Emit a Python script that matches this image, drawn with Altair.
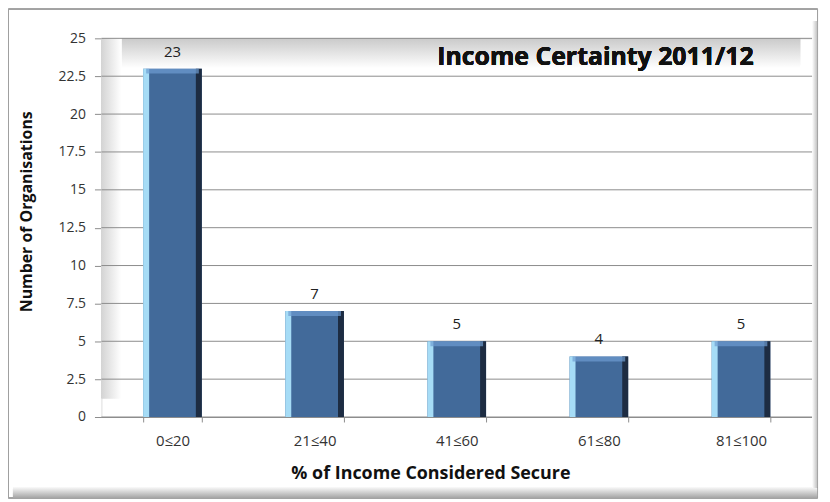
import altair as alt
import pandas as pd

categories = ["0≤20", "21≤40", "41≤60", "61≤80", "81≤100"]
counts = [23, 7, 5, 4, 5]
y_ticks = [0, 2.5, 5, 7.5, 10, 12.5, 15, 17.5, 20, 22.5, 25]

df = pd.DataFrame({"cat": categories, "n": counts})
grid_df = pd.DataFrame({"v": y_ticks})
FONT = "Liberation Sans Narrow, Open Sans, sans-serif"
TFONT = "Open Sans, sans-serif"
W, H = 715, 381

x_scale = alt.Scale(domain=categories, paddingInner=0.59, paddingOuter=0.295)
y_scale = alt.Scale(domain=[0, 25])

x_axis = alt.Axis(title="% of Income Considered Secure", labelAngle=0,
                  tickBand="extent", domainColor="#8c8c8c", tickColor="#8c8c8c",
                  tickSize=5, labelPadding=12, labelFontSize=15, labelColor="#333",
                  labelFont=FONT, titleFont=TFONT, titleFontSize=18, titleFontWeight="bold",
                  titleColor="#111", titleX=331, titleY=57, titleBaseline="middle",
                  titleAlign="center", titleAnchor="start", grid=False)
y_axis = alt.Axis(title="Number of Organisations", values=y_ticks,
                  labelExpr="'' + datum.value",
                  labelOverlap=False, domain=False, tickColor="#8c8c8c", tickSize=7,
                  labelPadding=9, labelFontSize=14, labelColor="#333", labelFont=FONT,
                  grid=False, titleFont=TFONT, titleFontSize=16, titleFontWeight="bold",
                  titleColor="#111", titleX=-75, titleY=174, titleBaseline="middle",
                  titleAlign="center", titleAnchor="start")

x_enc = alt.X("cat:N", sort=categories, scale=x_scale, axis=x_axis)
y_enc = alt.Y("n:Q", scale=y_scale, axis=y_axis)

base = alt.Chart(df)

def grad(c0, c1, horizontal=False):
    return alt.Gradient(gradient="linear", x1=0, y1=0,
                        x2=1 if horizontal else 0, y2=0 if horizontal else 1,
                        stops=[alt.GradientStop(color=c0, offset=0),
                               alt.GradientStop(color=c1, offset=1)])

frame = base.mark_rect(fill="white", fillOpacity=0, stroke="#a0a0a0", strokeWidth=1).encode(
    x=alt.value(-93.5), x2=alt.value(720.5), y=alt.value(-29.5), y2=alt.value(462.5))
shadow_b = base.mark_rect(fill=grad("#f6f6f6", "#a8a8a8")).encode(
    x=alt.value(-89), x2=alt.value(720), y=alt.value(452), y2=alt.value(462))
shadow_r = base.mark_rect(fill=grad("#ffffff", "#c4c4c4", True)).encode(
    x=alt.value(715), x2=alt.value(720), y=alt.value(-17), y2=alt.value(452))
topwall = base.mark_rect(fill=grad("#cacaca", "#ffffff")).encode(
    x=alt.value(4), x2=alt.value(703), y=alt.value(0), y2=alt.value(30))
leftwall = base.mark_rect(fill=grad("#d4d4d4", "#ffffff", True)).encode(
    x=alt.value(0), x2=alt.value(20), y=alt.value(0), y2=alt.value(362))

gridlines = alt.Chart(grid_df).mark_rule(color="#8c8c8c", strokeWidth=1).encode(
    y=alt.Y("v:Q", scale=y_scale, axis=y_axis), x=alt.value(0), x2=alt.value(W))

axes = base.mark_bar(opacity=0).encode(x=x_enc, y=y_enc)
main = base.mark_bar(width=59, color="#426a9a").encode(x=x_enc, y=y_enc)
left = base.mark_bar(width=6, xOffset=-26.5, color="#a6dcf6").encode(x=x_enc, y=y_enc)
right = base.mark_bar(width=6, xOffset=26.5, color="#1d2c42").encode(x=x_enc, y=y_enc)
top = base.mark_tick(size=53, thickness=5, yOffset=2.5, color="#6f9dd2", orient="horizontal").encode(
    x=x_enc, y=y_enc)
labels = base.mark_text(dy=-17, fontSize=15, color="#222", font=FONT, baseline="middle").encode(
    x=x_enc, y=y_enc, text="n:Q")
title = base.mark_text(text="Income Certainty 2011/12", fontSize=25, fontWeight="bold",
                       font=TFONT, color="#111", align="center", baseline="middle").encode(
    x=alt.value(497), y=alt.value(19))

chart = alt.layer(axes, frame, shadow_b, shadow_r, topwall, leftwall, gridlines,
                  main, left, right, top, labels, title).properties(
    width=W, height=H,
    autosize=alt.AutoSizeParams(type="none"),
    padding={"left": 94, "top": 29, "right": 10, "bottom": 86},
).configure_view(stroke=None).configure(background="white")

chart.save("out.html", embed_options={"renderer": "svg", "actions": False})
